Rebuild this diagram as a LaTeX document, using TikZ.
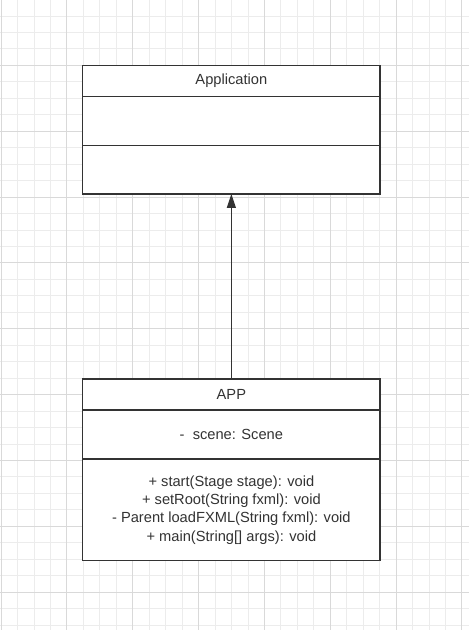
\documentclass[tikz,border=0pt]{standalone}
\usepackage{fontspec}
\setmainfont{Liberation Sans}
\usepackage{tikz}
\usetikzlibrary{positioning}
\usetikzlibrary{arrows.meta}

\definecolor{umlgray}{HTML}{333333}
\definecolor{gridminor}{HTML}{ECECEC}
\definecolor{gridmajor}{HTML}{D9D9D9}

\tikzset{
  umlpart/.style={draw=umlgray, line width=1pt, fill=white, minimum width=223pt,
    inner sep=0pt, outer sep=0pt, text=umlgray, align=center,
    font=\fontsize{11}{13.7}\selectfont},
  inherit/.style={draw=umlgray, line width=0.8pt, -{Triangle[length=10.5pt,width=6.8pt]}}
}

\begin{document}
\begin{tikzpicture}[x=0.75pt, y=-0.75pt]
			\useasboundingbox[fill=white](0, 0) rectangle (469, 630);

			% background grid
			\foreach \i in {0,...,28}
				\draw[gridminor, line width=0.6pt]({1+\i*16.46}, 0)--({1+\i*16.46}, 630);
			\foreach \i in {0,...,38}
				\draw[gridminor, line width=0.6pt](0, {-0.5+\i*16.46})--(469, {-0.5+\i*16.46});
			\foreach \i in {0,4,...,28}
				\draw[gridmajor, line width=0.6pt]({1+\i*16.46}, 0)--({1+\i*16.46}, 630);
			\foreach \i in {0,4,...,36}
				\draw[gridmajor, line width=0.6pt](0, {-0.5+\i*16.46})--(469, {-0.5+\i*16.46});

			% class Application
			\node[umlpart, anchor=north west, minimum height=23.25pt](application-name) at (82.7, 65.7) {Application};
			\node[umlpart, minimum height=36.75pt, below=0pt of application-name](application-attr) {};
			\node[umlpart, minimum height=36.2pt, below=0pt of application-attr](application-ops) {};

			% class APP
			\node[umlpart, anchor=north west, minimum height=23.25pt](app-name) at (82.7, 379) {APP};
			\node[umlpart, minimum height=36.75pt, below=0pt of app-name](app-attr) {-~ scene: Scene};
			\node[umlpart, minimum height=76.3pt, below=0pt of app-attr](app-ops) {+ start(Stage stage): void\\
				+ setRoot(String fxml): void\\
				- Parent loadFXML(String fxml): void\\
				+ main(String[] args): void};

			\draw[inherit](app-name.north)--(application-ops.south);
		\end{tikzpicture}
\end{document}
